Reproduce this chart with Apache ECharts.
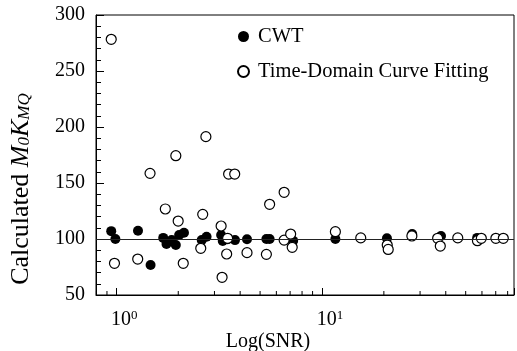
<!DOCTYPE html>
<html><head><meta charset="utf-8">
<script src="https://cdn.jsdelivr.net/npm/echarts@6/dist/echarts.min.js"></script>
<style>html,body{margin:0;padding:0;background:#fff}#c{width:517px;height:351px}</style>
</head><body><div id="c"></div>
<script>
// ---- data ----
const seriesNames = ['CWT', 'Time-Domain Curve Fitting'];
const cwtSNR   = [0.944, 0.989, 1.274, 1.467, 1.690, 1.753, 1.857, 1.946, 2.020, 2.132, 2.601, 2.746, 3.232, 3.292, 3.476, 3.775, 4.319, 5.366, 5.564, 7.243, 11.62, 20.70, 27.46, 37.92, 56.85];
const cwtValue = [107, 100, 107.4, 76.8, 101, 95.5, 99, 94.6, 103.6, 105.6, 99, 102, 103.6, 98.2, 99.7, 99, 99.7, 100, 100, 98.5, 100, 100.6, 104.4, 102.7, 101];
const tdcfSNR   = [0.944, 0.979, 1.270, 1.458, 1.730, 1.946, 1.998, 2.115, 2.573, 2.630, 2.725, 3.232, 3.267, 3.439, 3.476, 3.515, 3.763, 4.319, 5.366, 5.564, 6.546, 6.546, 7.041, 7.165, 11.62, 15.44, 20.77, 21.0, 27.37, 36.52, 37.63, 45.76, 57.04, 59.57, 70.10, 76.2];
const tdcfValue = [278.3, 78.3, 82.1, 158.6, 126.8, 174.4, 116, 78.3, 91.7, 122, 191.4, 111.6, 65.8, 86.6, 100.6, 158, 158, 87.8, 86.3, 131, 141.7, 99, 104.4, 92.6, 106.5, 101, 94.6, 90.7, 102.7, 100.6, 93.7, 101, 98.5, 100.6, 100.6, 100.6];
const referenceLevel = 100;
const xMinorTicks = [0.8, 0.9, 2, 3, 4, 5, 6, 7, 8, 9, 20, 30, 40, 50, 60, 70, 80];
const xTitle = 'Log(SNR)';
const yTitleParts = ['Calculated ', 'M', '0', 'K', 'MQ'];

const FONT = "'Liberation Serif','Times New Roman',serif";
const chart = echarts.init(document.getElementById('c'), null, {renderer: 'canvas'});

function zipPts(xs, ys) { return xs.map((x, i) => [x, ys[i]]); }

const option = {
  animation: false,
  backgroundColor: '#fff',
  textStyle: {fontFamily: FONT, color: '#000'},
  grid: {left: 96, top: 15, right: -10, bottom: 56, show: true, borderColor: '#000', borderWidth: 1, backgroundColor: 'transparent'},
  xAxis: {
    type: 'log', logBase: 10, min: 0.796, max: 85.9,
    axisLine: {lineStyle: {color: '#000', width: 1}},
    axisTick: {inside: true, length: 7, lineStyle: {color: '#000'}},
    splitLine: {show: false},
    axisLabel: {
      margin: 14, color: '#000', fontSize: 20, fontFamily: FONT, lineHeight: 22,
      formatter: function (v) {
        const e = Math.log10(v);
        if (Math.abs(e - Math.round(e)) > 1e-6) return '';
        return '{sp| }{b|10}{s|' + Math.round(e) + '}';
      },
      rich: {
        sp: {width: 16, fontSize: 20, fontFamily: FONT, lineHeight: 22},
        b: {fontSize: 20, fontFamily: FONT, color: '#000', lineHeight: 22},
        s: {fontSize: 13, fontFamily: FONT, color: '#000', lineHeight: 22, padding: [0, 0, 9, 0]}
      }
    }
  },
  yAxis: {
    type: 'value', min: 50, max: 300, interval: 50,
    axisLine: {show: true, lineStyle: {color: '#000', width: 1}},
    axisTick: {show: true, inside: true, length: 8, lineStyle: {color: '#000'}},
    minorTick: {show: true, splitNumber: 5, length: 5, lineStyle: {color: '#000'}},
    splitLine: {show: false},
    axisLabel: {margin: 11, fontSize: 20, fontFamily: FONT, color: '#000', padding: [7, 0, 0, 0]}
  },
  legend: {
    data: seriesNames, orient: 'vertical', left: 237, top: 26, padding: 0,
    itemGap: 14, itemWidth: 11, itemHeight: 11, icon: 'circle',
    textStyle: {fontFamily: FONT, fontSize: 20.5, color: '#000', padding: [0, 0, 0, 4]}
  },
  graphic: [
    {
      type: 'text', x: 21, y: 189, rotation: Math.PI / 2, silent: true,
      style: {
        text: '{n|' + yTitleParts[0] + '}{i|' + yTitleParts[1] + '}{s|' + yTitleParts[2] + '}{i|' + yTitleParts[3] + '}{s|' + yTitleParts[4] + '}',
        align: 'center', verticalAlign: 'middle', fill: '#000', fontFamily: FONT, fontSize: 26,
        rich: {
          n: {fontSize: 26, fontFamily: FONT, lineHeight: 30},
          i: {fontSize: 26, fontFamily: FONT, fontStyle: 'italic', lineHeight: 30},
          s: {fontSize: 17, fontFamily: FONT, fontStyle: 'italic', lineHeight: 30, padding: [8, 0, 0, 0]}
        }
      }
    },
    {
      type: 'text', x: 268, y: 342, silent: true,
      style: {text: xTitle, align: 'center', verticalAlign: 'middle', fill: '#000', fontFamily: FONT, fontSize: 20}
    }
  ],
  series: [
    {
      type: 'custom', coordinateSystem: 'cartesian2d', silent: true, z: 1,
      data: xMinorTicks.map(v => [v, 50]),
      renderItem: function (params, api) {
        const p = api.coord([api.value(0), api.value(1)]);
        return {type: 'line', shape: {x1: p[0], y1: p[1], x2: p[0], y2: p[1] - 4}, style: {stroke: '#000', lineWidth: 1}};
      }
    },
    {
      name: seriesNames[0], type: 'scatter', symbol: 'circle', symbolSize: 10, z: 3,
      itemStyle: {color: '#000', opacity: 1},
      emphasis: {disabled: true},
      data: zipPts(cwtSNR, cwtValue),
      markLine: {
        silent: true, symbol: ['none', 'none'], label: {show: false},
        lineStyle: {color: '#222', width: 1, type: 'solid'},
        emphasis: {disabled: true},
        data: [{yAxis: referenceLevel}]
      }
    },
    {
      name: seriesNames[1], type: 'scatter', symbol: 'circle', symbolSize: 10, z: 4,
      itemStyle: {color: '#fff', borderColor: '#000', borderWidth: 1.2, opacity: 1},
      emphasis: {disabled: true},
      data: zipPts(tdcfSNR, tdcfValue)
    }
  ]
};
chart.setOption(option);
</script>
</body></html>
